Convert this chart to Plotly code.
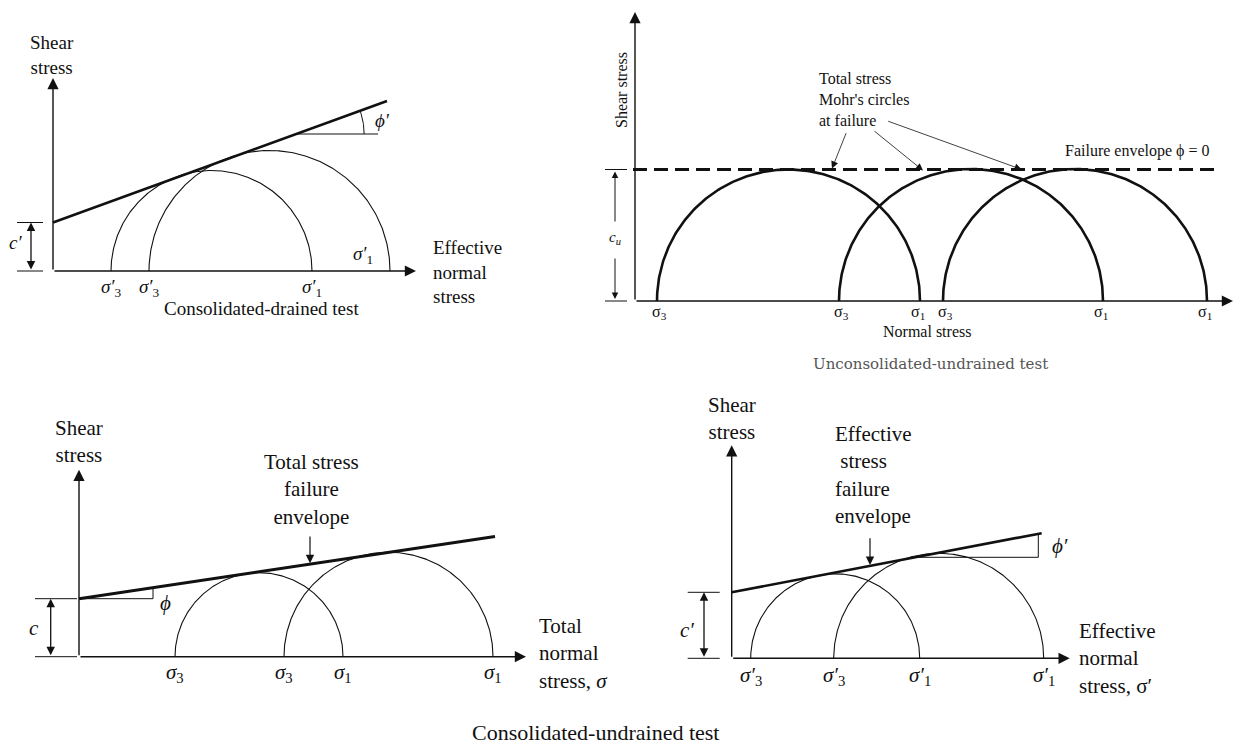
import numpy as np
import plotly.graph_objects as go

# ---------------- data (stress units) ----------------
# Consolidated-drained test (effective stresses)
cd_sigma3 = [58, 96]
cd_sigma1 = [259, 337]
cd_c = 48.5
cd_phi_deg = 20.0
cd_label3 = "<i>σ′</i><sub>3</sub>"
cd_label1 = "<i>σ′</i><sub>1</sub>"

# Unconsolidated-undrained test (total stresses)
uu_sigma3 = [22, 204, 308]
uu_sigma1 = [285, 468, 572]
uu_cu = 131.5
uu_label3 = "σ<sub>3</sub>"
uu_label1 = "σ<sub>1</sub>"

# Consolidated-undrained test, total stresses
cut_sigma3 = [96, 205]
cut_sigma1 = [264, 414]
cut_c = 58
cut_phi_deg = 8.5
cut_label3 = "<i>σ</i><sub>3</sub>"
cut_label1 = "<i>σ</i><sub>1</sub>"

# Consolidated-undrained test, effective stresses
cue_sigma3 = [19, 102]
cue_sigma1 = [188, 312]
cue_c = 66
cue_phi_deg = 10.8
cue_label3 = "<i>σ′</i><sub>3</sub>"
cue_label1 = "<i>σ′</i><sub>1</sub>"

# ---------------- layout / style ----------------
W, H = 1241, 747
INK = "#111111"
SERIF = "Liberation Serif"

PANELS = {
    1: dict(box=(0, 20, 570, 335), origin=(53, 271)),
    2: dict(box=(585, 0, 1241, 380), origin=(635, 301)),
    3: dict(box=(0, 395, 640, 747), origin=(79, 656.7)),
    4: dict(box=(655, 385, 1241, 747), origin=(731.7, 658.3)),
}

fig = go.Figure()
axes = {}
for n, p in PANELS.items():
    x0, y0, x1, y1 = p["box"]
    ox, oy = p["origin"]
    sfx = "" if n == 1 else str(n)
    axes["xaxis" + sfx] = dict(domain=[x0 / W, x1 / W], range=[x0 - ox, x1 - ox],
                               visible=False, fixedrange=True, anchor="y" + sfx)
    axes["yaxis" + sfx] = dict(domain=[1 - y1 / H, 1 - y0 / H], range=[oy - y1, oy - y0],
                               visible=False, fixedrange=True, anchor="x" + sfx)


def refs(n):
    s = "" if n == 1 else str(n)
    return "x" + s, "y" + s


def add_line(n, xs, ys, width, dash=None):
    xr, yr = refs(n)
    fig.add_trace(go.Scatter(x=list(xs), y=list(ys), mode="lines",
                             line=dict(color=INK, width=width, dash=dash),
                             xaxis=xr, yaxis=yr, hoverinfo="skip", showlegend=False))


def add_arrow(n, tail, head, width=1.4, size=1.6, style=2, both=False):
    xr, yr = refs(n)
    fig.add_annotation(x=head[0], y=head[1], ax=tail[0], ay=tail[1],
                       xref=xr, yref=yr, axref=xr, ayref=yr, text="",
                       showarrow=True, arrowhead=style, startarrowhead=style,
                       arrowside="end+start" if both else "end",
                       arrowsize=size, startarrowsize=size, arrowwidth=width,
                       arrowcolor=INK, standoff=0, startstandoff=0)


def add_text(n, x, y, s, size, xanchor="center", yanchor="middle", angle=0,
             family=SERIF, color=INK):
    xr, yr = refs(n)
    fig.add_annotation(x=x, y=y, xref=xr, yref=yr, text=s, showarrow=False,
                       font=dict(family=family, size=size, color=color),
                       xanchor=xanchor, yanchor=yanchor, textangle=angle,
                       align=xanchor if xanchor in ("left", "right") else "center",
                       borderpad=0)


def semicircle(n, s3, s1, width):
    c = (s3 + s1) / 2.0
    r = (s1 - s3) / 2.0
    t = np.linspace(0, np.pi, 241)
    add_line(n, c + r * np.cos(t), r * np.sin(t), width)


def envelope(n, c, phi_deg, x_end, width):
    xs = np.array([0.0, x_end])
    add_line(n, xs, c + np.tan(np.radians(phi_deg)) * xs, width)


# ================= Panel 1: CD test =================
add_arrow(1, (0, 0), (0, 193))
add_arrow(1, (0, 0), (363, 0))
for s3, s1 in zip(cd_sigma3, cd_sigma1):
    semicircle(1, s3, s1, 1.1)
envelope(1, cd_c, cd_phi_deg, 334, 2.6)
tp = np.tan(np.radians(cd_phi_deg))
h = 137
xi = (h - cd_c) / tp
add_line(1, [xi, 325], [h, h], 1.0)
ta = np.linspace(0, np.radians(cd_phi_deg), 30)
add_line(1, xi + 68 * np.cos(ta), h + 68 * np.sin(ta), 1.0)
add_text(1, 321, 151, "<i>ϕ′</i>", 19, xanchor="left")
add_line(1, [-36, -10], [0, 0], 1.0)
add_line(1, [-36, -10], [cd_c, cd_c], 1.0)
add_arrow(1, (-22, 0), (-22, cd_c), width=1.3, size=1.3, both=True)
add_text(1, -38, 29, "<i>c′</i>", 19)
for s in cd_sigma3:
    add_text(1, s, -17, cd_label3, 19)
add_text(1, cd_sigma1[0], -17, cd_label1, 19)
add_text(1, cd_sigma1[1] - 27, 16, cd_label1, 19)
add_text(1, -1, 216, "Shear<br>stress", 19)
add_text(1, 379, -1, "Effective<br>normal<br>stress", 19, xanchor="left")
add_text(1, 208, -37, "Consolidated-drained test", 19)

# ================= Panel 2: UU test =================
add_arrow(2, (0, 0), (0, 289))
add_arrow(2, (0, 0), (598, 0))
for s3, s1 in zip(uu_sigma3, uu_sigma1):
    semicircle(2, s3, s1, 2.6)
add_line(2, [-2, 583], [uu_cu, uu_cu], 3, dash="14px,7px")
add_line(2, [-30, -8], [0, 0], 1.0)
add_line(2, [-30, -8], [uu_cu, uu_cu], 1.0)
add_arrow(2, (-20, 78), (-20, uu_cu - 2), width=1.0, size=1.3)
add_arrow(2, (-20, 44), (-20, 2), width=1.0, size=1.3)
add_text(2, -20, 63, "<i>c<sub>u</sub></i>", 15)
add_text(2, -14, 211, "Shear stress", 16, angle=-90)
add_text(2, 183, 202, "Total stress<br>Mohr's circles<br>at failure", 16, xanchor="left")
add_arrow(2, (211.7, 169.3), (197, uu_cu + 1), width=0.8, size=1.8)
add_arrow(2, (238, 171), (288, uu_cu - 1), width=0.8, size=1.8)
add_arrow(2, (251.7, 180.3), (386.7, uu_cu), width=0.8, size=1.8)
add_text(2, 502, 150, "Failure envelope ϕ = 0", 16)
for s in uu_sigma3:
    add_text(2, s + 2, -11, uu_label3, 16)
for s in uu_sigma1:
    add_text(2, s - 2, -11, uu_label1, 16)
add_text(2, 292, -30, "Normal stress", 16)
add_text(2, 295, -63, "Unconsolidated-undrained test", 15,
         family="DejaVu Serif", color="#555555")

# ================= Panel 3: CU total =================
add_arrow(3, (0, 0), (0, 187))
add_arrow(3, (0, 0), (447, 0))
for s3, s1 in zip(cut_sigma3, cut_sigma1):
    semicircle(3, s3, s1, 1.1)
envelope(3, cut_c, cut_phi_deg, 416, 3.0)
tp3 = np.tan(np.radians(cut_phi_deg))
add_line(3, [0, 74], [cut_c, cut_c], 1.0)
add_line(3, [74, 74], [cut_c, cut_c + 74 * tp3], 1.0)
add_text(3, 86, 54, "<i>ϕ</i>", 21)
add_line(3, [-44, -2], [0, 0], 1.0)
add_line(3, [-44, -2], [cut_c, cut_c], 1.0)
add_arrow(3, (-28.3, 0), (-28.3, cut_c), width=1.3, size=1.3, both=True)
add_text(3, -45, 29, "<i>c</i>", 21)
add_text(3, 232.7, 167, "Total stress<br>failure<br>envelope", 21)
add_arrow(3, (231, 121.7), (231, cut_c + 231 * tp3 + 1), width=1.2, size=1.4)
for s in cut_sigma3:
    add_text(3, s, -16, cut_label3, 21)
for s in cut_sigma1:
    add_text(3, s, -16, cut_label1, 21)
add_text(3, 0, 215, "Shear<br>stress", 21)
add_text(3, 459, 3.7, "Total<br>normal<br>stress, <i>σ</i>", 21, xanchor="left")
add_text(3, 516, -76, "Consolidated-undrained test", 22)

# ================= Panel 4: CU effective =================
add_arrow(4, (0, 0), (0, 213))
add_arrow(4, (0, 0), (338, 0))
for s3, s1 in zip(cue_sigma3, cue_sigma1):
    semicircle(4, s3, s1, 1.1)
envelope(4, cue_c, cue_phi_deg, 310, 2.6)
tp4 = np.tan(np.radians(cue_phi_deg))
h4 = 101
xi4 = (h4 - cue_c) / tp4
add_line(4, [xi4, 306.6], [h4, h4], 1.0)
add_line(4, [306.6, 306.6], [h4, cue_c + 306.6 * tp4], 1.0)
add_text(4, 328, 112, "<i>ϕ′</i>", 21)
add_line(4, [-44, -12], [0, 0], 1.0)
add_line(4, [-44, -12], [cue_c, cue_c], 1.0)
add_arrow(4, (-27.7, 0), (-27.7, cue_c), width=1.3, size=1.3, both=True)
add_text(4, -45, 28, "<i>c′</i>", 21)
add_text(4, 102.3, 183, "Effective<br>\u00a0stress<br>failure<br>envelope", 21, xanchor="left")
add_arrow(4, (138.3, 121.6), (138.3, cue_c + 138.3 * tp4 + 1), width=1.2, size=1.4)
for s in cue_sigma3:
    add_text(4, s, -18, cue_label3, 21)
for s in cue_sigma1:
    add_text(4, s, -18, cue_label1, 21)
add_text(4, 0, 240, "Shear<br>stress", 21)
add_text(4, 346.6, 0.3, "Effective<br>normal<br>stress, σ′", 21, xanchor="left")

fig.update_layout(width=W, height=H, margin=dict(l=0, r=0, t=0, b=0),
                  paper_bgcolor="white", plot_bgcolor="white",
                  showlegend=False, hovermode=False, **axes)

fig.write_html("out.html", config={"displayModeBar": False, "staticPlot": True},
               post_script="document.body.style.margin='0';document.body.style.overflow='hidden';")
